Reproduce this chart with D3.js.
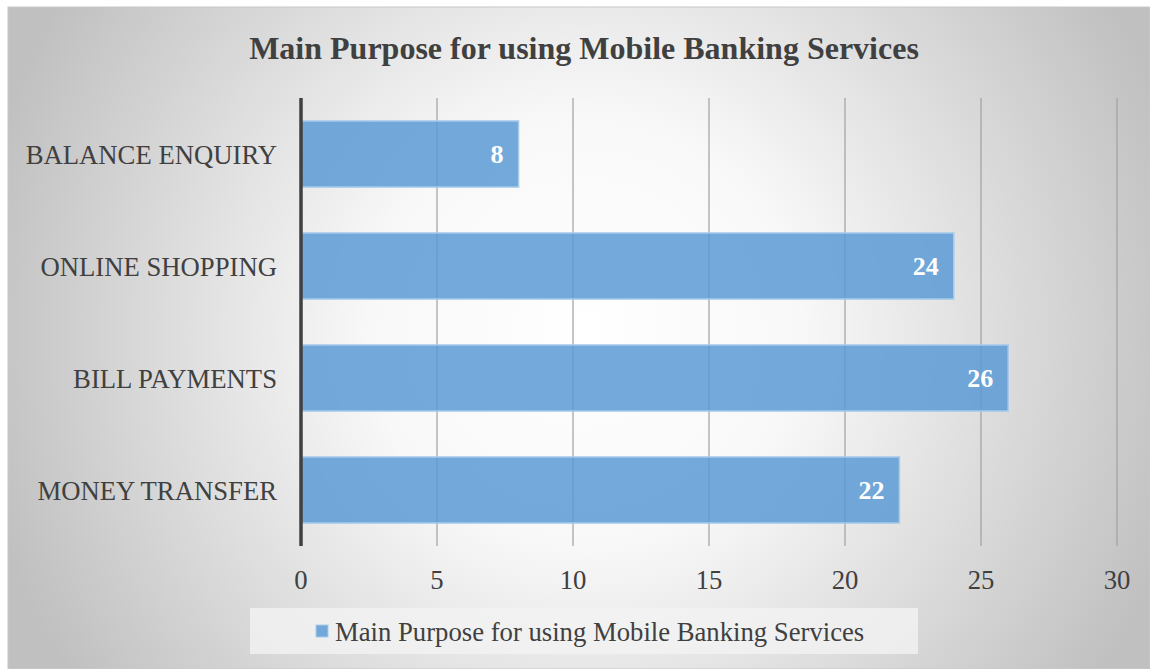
<!DOCTYPE html>
<html>
<head>
<meta charset="utf-8">
<script src="https://cdn.jsdelivr.net/npm/d3@7"></script>
<style>
  html, body { margin: 0; padding: 0; background: #fff; }
  svg { display: block; }
  text { font-family: "Liberation Serif", "Times New Roman", serif; }
</style>
</head>
<body>
<svg id="chart" width="1150" height="669"></svg>
<script>
// data
const categories = ["BALANCE ENQUIRY", "ONLINE SHOPPING", "BILL PAYMENTS", "MONEY TRANSFER"];
const values = [8, 24, 26, 22];
const xTicks = [0, 5, 10, 15, 20, 25, 30];
const chartTitle = "Main Purpose for using Mobile Banking Services";
const seriesName = "Main Purpose for using Mobile Banking Services";

const svg = d3.select("#chart");
const W = 1150, H = 669;

// background gradient
const defs = svg.append("defs");
const grad = defs.append("radialGradient").attr("id", "bg")
    .attr("gradientUnits", "userSpaceOnUse")
    .attr("cx", 585).attr("cy", 330).attr("r", 620);
grad.append("stop").attr("offset", "0%").attr("stop-color", "#ffffff");
grad.append("stop").attr("offset", "35%").attr("stop-color", "#f8f8f8");
grad.append("stop").attr("offset", "100%").attr("stop-color", "#c0c0c0");

svg.append("rect").attr("x", 8).attr("y", 7).attr("width", W - 8).attr("height", H - 7)
    .attr("fill", "url(#bg)").attr("stroke", "#c8c8c8").attr("stroke-width", 1);

const margin = { left: 301, right: 33, top: 98, bottom: 123 };
const x = d3.scaleLinear().domain([0, 30]).range([margin.left, W - margin.right]);
const y = d3.scaleBand().domain(categories).range([margin.top, H - margin.bottom]).paddingInner(0.41).paddingOuter(0.205);

// title
svg.append("text").attr("x", 584).attr("y", 59).attr("text-anchor", "middle")
    .attr("font-size", 32).attr("font-weight", "bold").attr("fill", "#404040")
    .text(chartTitle);

// gridlines
svg.append("g").selectAll("line").data(xTicks.slice(1)).join("line")
    .attr("x1", d => x(d)).attr("x2", d => x(d))
    .attr("y1", margin.top).attr("y2", H - margin.bottom)
    .attr("stroke", "#a0a0a0").attr("stroke-width", 1.2);

// bars
svg.append("g").selectAll("rect").data(values).join("rect")
    .attr("x", x(0))
    .attr("y", (d, i) => y(categories[i]))
    .attr("width", d => x(d) - x(0))
    .attr("height", y.bandwidth())
    .attr("fill", "#5b9bd5").attr("fill-opacity", 0.85)
    .attr("stroke", "#a9cbea").attr("stroke-width", 1.5);

// value labels
svg.append("g").selectAll("text").data(values).join("text")
    .attr("x", d => x(d) - 15)
    .attr("y", (d, i) => y(categories[i]) + y.bandwidth() / 2 + 9)
    .attr("text-anchor", "end")
    .attr("font-size", 26).attr("font-weight", "bold").attr("fill", "#ffffff")
    .text(d => d);

// y axis line
svg.append("line").attr("x1", x(0)).attr("x2", x(0))
    .attr("y1", margin.top).attr("y2", H - margin.bottom)
    .attr("stroke", "#404040").attr("stroke-width", 3.5);

// category labels
svg.append("g").selectAll("text").data(categories).join("text")
    .attr("x", 277)
    .attr("y", d => y(d) + y.bandwidth() / 2 + 10)
    .attr("text-anchor", "end")
    .attr("font-size", 26.7).attr("fill", "#404040")
    .text(d => d);

// x tick labels
svg.append("g").selectAll("text").data(xTicks).join("text")
    .attr("x", d => x(d)).attr("y", 589)
    .attr("text-anchor", "middle")
    .attr("font-size", 26.7).attr("fill", "#404040")
    .text(d => d);

// legend
svg.append("rect").attr("x", 250).attr("y", 608).attr("width", 668).attr("height", 46)
    .attr("fill", "#f2f2f2").attr("fill-opacity", 0.8);
svg.append("rect").attr("x", 316).attr("y", 625).attr("width", 12).attr("height", 12)
    .attr("fill", "#5b9bd5").attr("fill-opacity", 0.85).attr("stroke", "#a9cbea").attr("stroke-width", 1);
svg.append("text").attr("x", 335).attr("y", 641)
    .attr("font-size", 26.7).attr("fill", "#404040")
    .text(seriesName);
</script>
</body>
</html>
